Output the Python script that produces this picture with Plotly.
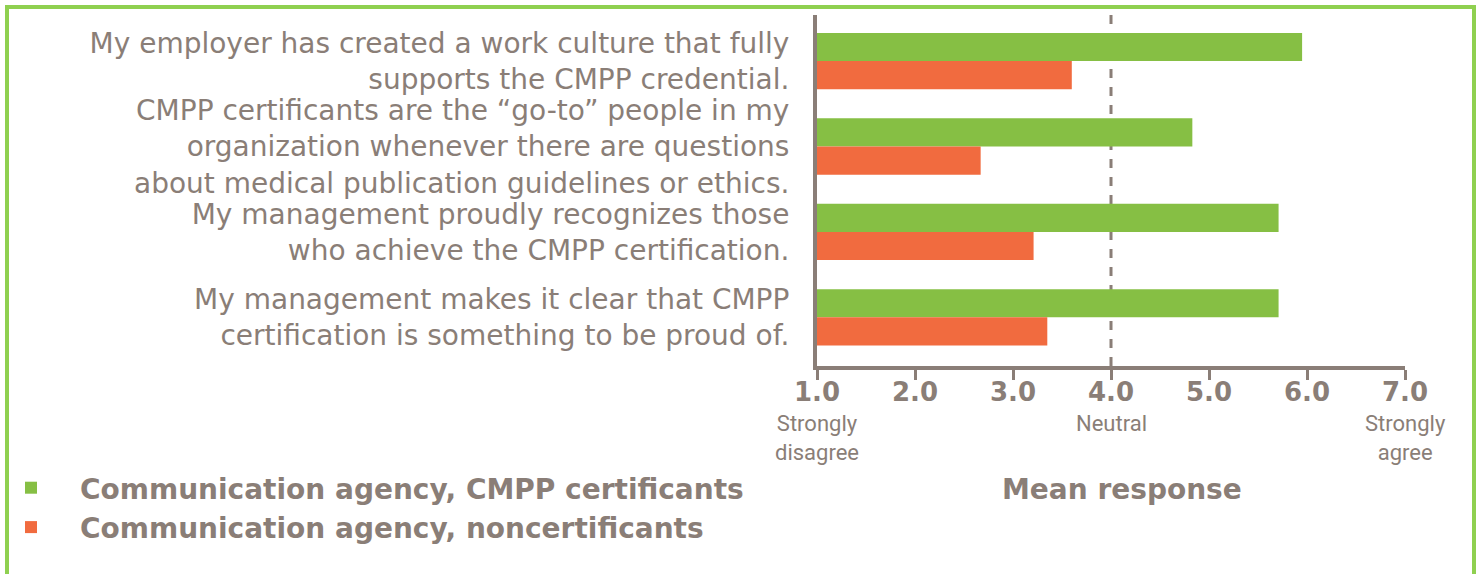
import plotly.graph_objects as go

categories = [
    "My employer has created a work culture that fully<br>supports the CMPP credential.",
    "CMPP certificants are the \u201cgo-to\u201d people in my<br>organization whenever there are questions<br>about medical publication guidelines or ethics.",
    "My management proudly recognizes those<br>who achieve the CMPP certification.",
    "My management makes it clear that CMPP<br>certification is something to be proud of.",
]
certificants = [5.95, 4.83, 5.71, 5.71]
noncertificants = [3.60, 2.67, 3.21, 3.35]
tick_vals = [1, 2, 3, 4, 5, 6, 7]
tick_text = ["1.0", "2.0", "3.0", "4.0", "5.0", "6.0", "7.0"]
scale_labels = [(1, "Strongly<br>disagree"), (4, "Neutral"), (7, "Strongly<br>agree")]

GRAY = "#8a7e77"
GREEN = "#86bf44"
ORANGE = "#f16b3f"
FRAME = "#8fd050"
WIDE = "DejaVu Sans, Verdana, sans-serif"

W, H = 1478, 574
L, R, T, B = 817, 1478 - 1405, 15, 574 - 366
pw, ph = W - L - R, H - T - B

def px(x):
    return (x - L) / pw

def py(y):
    return (H - B - y) / ph

fig = go.Figure()
fig.add_trace(go.Bar(y=categories, x=certificants, orientation="h",
                     name="Communication agency, CMPP certificants",
                     marker=dict(color=GREEN, line=dict(width=0))))
fig.add_trace(go.Bar(y=categories, x=noncertificants, orientation="h",
                     name="Communication agency, noncertificants",
                     marker=dict(color=ORANGE, line=dict(width=0))))

fig.update_layout(
    width=W, height=H,
    margin=dict(l=L, r=R, t=T, b=B, autoexpand=False),
    paper_bgcolor="white", plot_bgcolor="white",
    barmode="group", bargap=0.34, bargroupgap=0,
    font=dict(family=WIDE, color=GRAY),
    showlegend=True,
    legend=dict(x=px(-18), y=py(463), xanchor="left", yanchor="top",
                font=dict(size=28, family=WIDE, weight="bold", color=GRAY),
                tracegroupgap=0, itemwidth=88, bgcolor="rgba(0,0,0,0)",
                traceorder="normal"),
    xaxis=dict(range=[1, 7], tickvals=tick_vals, ticktext=tick_text,
               showgrid=False, zeroline=False, showline=True, linecolor=GRAY, linewidth=4,
               ticks="outside", ticklen=10, tickwidth=3, tickcolor=GRAY,
               ticklabelstandoff=-10,
               tickfont=dict(size=26, family=WIDE, weight="bold", color=GRAY)),
    yaxis=dict(autorange=False, range=[3.57, -0.54], categoryorder="array",
               categoryarray=categories,
               showgrid=False, zeroline=False, showline=True, linecolor=GRAY, linewidth=4,
               ticks="", ticklabelstandoff=18,
               tickfont=dict(size=28, family=WIDE, color=GRAY)),
)

fig.add_shape(type="line", xref="x", yref="paper", x0=4, x1=4, y0=0, y1=1,
              line=dict(color=GRAY, width=3, dash="dash"), layer="below")

for xv, txt in scale_labels:
    fig.add_annotation(x=xv, xref="x", y=py(409), yref="paper",
                       xanchor="center", yanchor="top",
                       text=txt, showarrow=False, align="center",
                       font=dict(size=22, family="Roboto, sans-serif", color=GRAY))

fig.add_annotation(x=px(1122), xref="paper", y=py(489), yref="paper",
                   xanchor="center", yanchor="middle",
                   text="Mean response", showarrow=False,
                   font=dict(size=28, family=WIDE, weight="bold", color=GRAY))

fig.add_shape(type="rect", xref="paper", yref="paper",
              x0=px(7), x1=px(1474), y0=py(7), y1=py(590),
              line=dict(color=FRAME, width=4), fillcolor="rgba(0,0,0,0)")

fig.write_html("out.html", config={"displayModeBar": False},
               post_script="document.body.style.margin='0';")
